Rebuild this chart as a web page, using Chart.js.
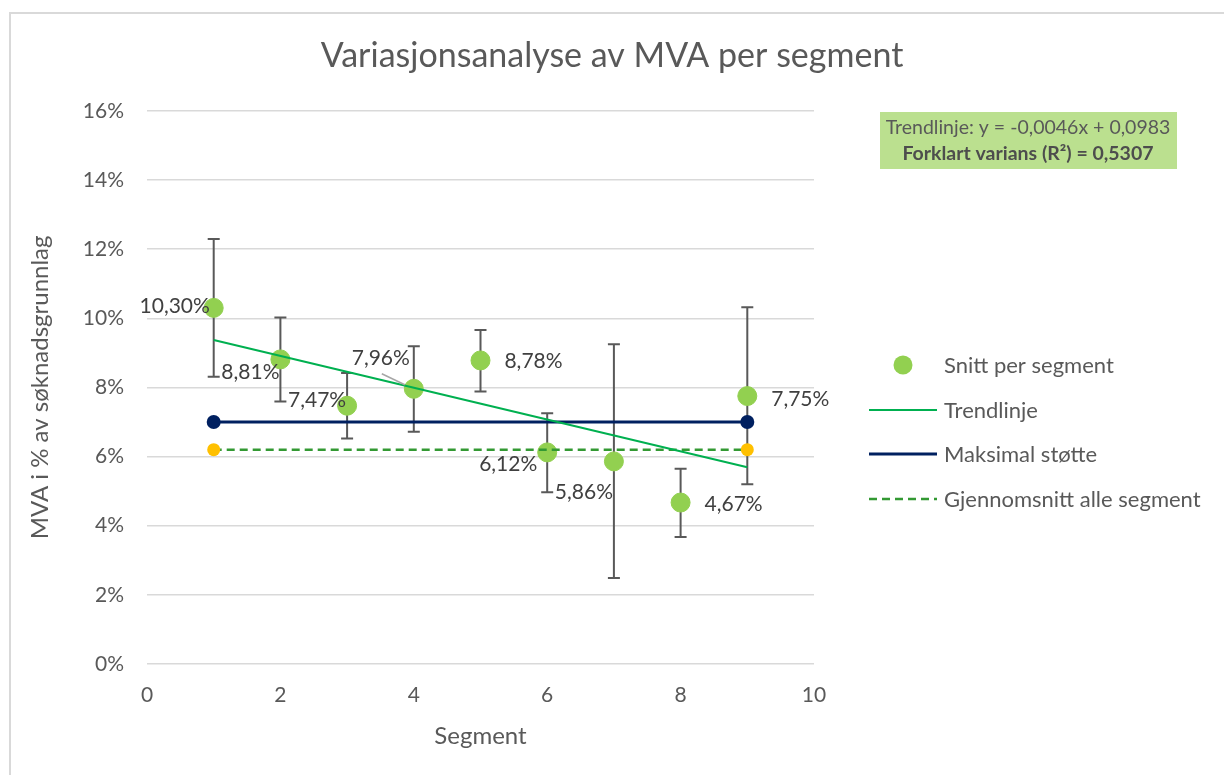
<!DOCTYPE html>
<html>
<head>
<meta charset="utf-8">
<script src="https://cdn.jsdelivr.net/npm/chart.js@4.4.1/dist/chart.umd.min.js"></script>
<style>
  html, body { margin: 0; padding: 0; background: #fff; }
  #wrap { position: relative; width: 1224px; height: 775px; overflow: hidden; }
  #frame { position: absolute; left: 9px; top: 12px; width: 1240px; height: 790px;
           border: 2px solid #d9d9d9; pointer-events: none; }
</style>
</head>
<body>
<div id="wrap">
  <canvas id="c" width="1224" height="775"></canvas>
  <div id="frame"></div>
</div>
<script>
/* ---- data --------------------------------------------------------- */
const segments = [1, 2, 3, 4, 5, 6, 7, 8, 9];
const snitt    = [10.30, 8.81, 7.47, 7.96, 8.78, 6.12, 5.86, 4.67, 7.75];
const errHigh  = [12.29, 10.02, 8.42, 9.19, 9.66, 7.25, 9.25, 5.65, 10.32];
const errLow   = [8.31, 7.59, 6.52, 6.72, 7.88, 4.97, 2.49, 3.67, 5.20];

const lineX      = [1, 9];
const trend      = [9.37, 5.69];
const maksStotte = [7, 7];
const snittAlle  = [6.2, 6.2];

const yTicks = [0, 2, 4, 6, 8, 10, 12, 14, 16];
const xTicks = [0, 2, 4, 6, 8, 10];

const trendText = ['Trendlinje: y = -0,0046x + 0,0983', 'Forklart varians (R²) = 0,5307'];

const FONT = 'Lato, "Open Sans", sans-serif';
const GREY = '#595959';

const pts = (xs, ys) => xs.map((x, i) => ({ x, y: ys[i] }));
const pct = v => v.toFixed(2).replace('.', ',') + '%';

/* ---- error bars, drawn under the markers ---------------------------- */
const errorBars = {
  id: 'errorBars',
  beforeDatasetsDraw(chart) {
    const { ctx, scales: { x, y } } = chart;
    ctx.save();
    ctx.strokeStyle = GREY;
    ctx.lineWidth = 2;
    segments.forEach((s, i) => {
      const px = x.getPixelForValue(s);
      const top = y.getPixelForValue(errHigh[i]);
      const bot = y.getPixelForValue(errLow[i]);
      ctx.beginPath();
      ctx.moveTo(px, top); ctx.lineTo(px, bot);
      ctx.moveTo(px - 6, top); ctx.lineTo(px + 6, top);
      ctx.moveTo(px - 6, bot); ctx.lineTo(px + 6, bot);
      ctx.stroke();
    });
    ctx.restore();
  }
};

/* ---- data labels on the scatter points ------------------------------ */
const pointLabels = {
  id: 'pointLabels',
  afterDatasetsDraw(chart, args, opts) {
    const { ctx } = chart;
    const meta = chart.getDatasetMeta(0);
    ctx.save();
    ctx.font = `21px ${FONT}`;
    ctx.fillStyle = '#404040';
    ctx.textAlign = 'center';
    ctx.textBaseline = 'middle';
    meta.data.forEach((el, i) => {
      const [dx, dy] = opts.offsets[i];
      ctx.fillText(pct(snitt[i]), el.x + dx, el.y + dy);
    });
    // leader line for the moved label
    const el = meta.data[opts.leader.index];
    ctx.strokeStyle = '#a6a6a6';
    ctx.lineWidth = 1.5;
    ctx.beginPath();
    ctx.moveTo(el.x + opts.leader.from[0], el.y + opts.leader.from[1]);
    ctx.lineTo(el.x + opts.leader.to[0], el.y + opts.leader.to[1]);
    ctx.stroke();
    ctx.restore();
  }
};

/* ---- legend + trend box on the right -------------------------------- */
const sideBox = {
  id: 'sideBox',
  afterDraw(chart) {
    const { ctx, chartArea } = chart;
    const r = chartArea.right;
    ctx.save();

    // trend equation box
    ctx.fillStyle = '#bbe08f';
    ctx.fillRect(r + 66, 112, 297, 57);
    ctx.textAlign = 'center';
    ctx.textBaseline = 'middle';
    ctx.fillStyle = GREY;
    ctx.font = `19.5px ${FONT}`;
    ctx.fillText(trendText[0], r + 214, 128);
    ctx.fillStyle = '#4d4d4d';
    ctx.font = `bold 19.5px ${FONT}`;
    ctx.fillText(trendText[1], r + 214, 154);

    // legend
    const ds = chart.data.datasets;
    const rowY = [365, 410, 454, 499];
    ctx.textAlign = 'left';
    ctx.font = `22px ${FONT}`;
    ds.forEach((d, i) => {
      const y = rowY[i];
      ctx.save();
      if (i === 0) {
        ctx.fillStyle = d.backgroundColor;
        ctx.beginPath();
        ctx.arc(r + 89, y, 9.5, 0, Math.PI * 2);
        ctx.fill();
      } else {
        ctx.strokeStyle = d.borderColor;
        ctx.lineWidth = d.borderWidth;
        ctx.setLineDash(d.borderDash || []);
        ctx.beginPath();
        ctx.moveTo(r + 55, y); ctx.lineTo(r + 123, y);
        ctx.stroke();
      }
      ctx.restore();
      ctx.fillStyle = GREY;
      ctx.fillText(d.label, r + 130, y + 1);
    });
    ctx.restore();
  }
};

new Chart(document.getElementById('c'), {
  type: 'scatter',
  data: {
    datasets: [
      {
        label: 'Snitt per segment',
        data: pts(segments, snitt),
        backgroundColor: '#92d050',
        borderColor: '#92d050',
        pointRadius: 9.5,
        pointHoverRadius: 9.5,
        order: 10
      },
      {
        label: 'Trendlinje',
        data: pts(lineX, trend),
        showLine: true,
        borderColor: '#00b050',
        backgroundColor: '#00b050',
        borderWidth: 2,
        pointRadius: 0,
        order: 1
      },
      {
        label: 'Maksimal støtte',
        data: pts(lineX, maksStotte),
        showLine: true,
        borderColor: '#002060',
        backgroundColor: '#002060',
        borderWidth: 3,
        pointRadius: 7,
        pointBorderWidth: 0,
        order: 2
      },
      {
        label: 'Gjennomsnitt alle segment',
        data: pts(lineX, snittAlle),
        showLine: true,
        borderColor: '#339933',
        backgroundColor: '#ffc000',
        pointBackgroundColor: '#ffc000',
        pointBorderColor: '#ffc000',
        borderWidth: 2.5,
        borderDash: [8, 5],
        pointRadius: 6.5,
        pointBorderWidth: 0,
        order: 3
      }
    ]
  },
  options: {
    responsive: false,
    animation: false,
    events: [],
    layout: { padding: 0 },
    plugins: {
      legend: { display: false },
      tooltip: { enabled: false },
      title: {
        display: true,
        text: 'Variasjonsanalyse av MVA per segment',
        color: GREY,
        font: { family: FONT, size: 34, weight: 'normal' },
        padding: { top: 36, bottom: 34 }
      },
      pointLabels: {
        offsets: [[-39, -2], [-30, 13], [-30, -5], [-33, -31], [53, 1],
                  [-39, 12], [-30, 31], [53, 2], [53, 3]],
        leader: { index: 3, from: [-32, -15], to: [-9, -4] }
      }
    },
    scales: {
      x: {
        type: 'linear',
        min: 0, max: 10,
        afterBuildTicks: s => { s.ticks = xTicks.map(v => ({ value: v })); },
        afterFit: s => { s.height = 111; },
        grid: { display: false, drawTicks: false },
        border: { display: false },
        ticks: { color: GREY, padding: 19, font: { family: FONT, size: 21 } },
        title: {
          display: true, text: 'Segment', color: GREY,
          font: { family: FONT, size: 24 }, padding: { top: 0, bottom: 24 }
        }
      },
      y: {
        min: 0, max: 16,
        afterBuildTicks: s => { s.ticks = yTicks.map(v => ({ value: v })); },
        afterFit: s => { s.width = 147; },
        grid: { color: '#d9d9d9', lineWidth: 1.5, drawTicks: false },
        border: { display: false },
        ticks: { color: GREY, padding: 23, callback: v => v + '%',
                 font: { family: FONT, size: 21 } },
        title: {
          display: true, text: 'MVA i % av søknadsgrunnlag', color: GREY,
          font: { family: FONT, size: 24 }, padding: { top: 26, bottom: 0 }
        }
      },
      side: {
        position: 'right',
        min: 0, max: 1,
        display: true,
        afterFit: s => { s.width = 410; },
        grid: { display: false },
        border: { display: false },
        ticks: { display: false }
      }
    }
  },
  plugins: [errorBars, pointLabels, sideBox]
});
</script>
</body>
</html>
